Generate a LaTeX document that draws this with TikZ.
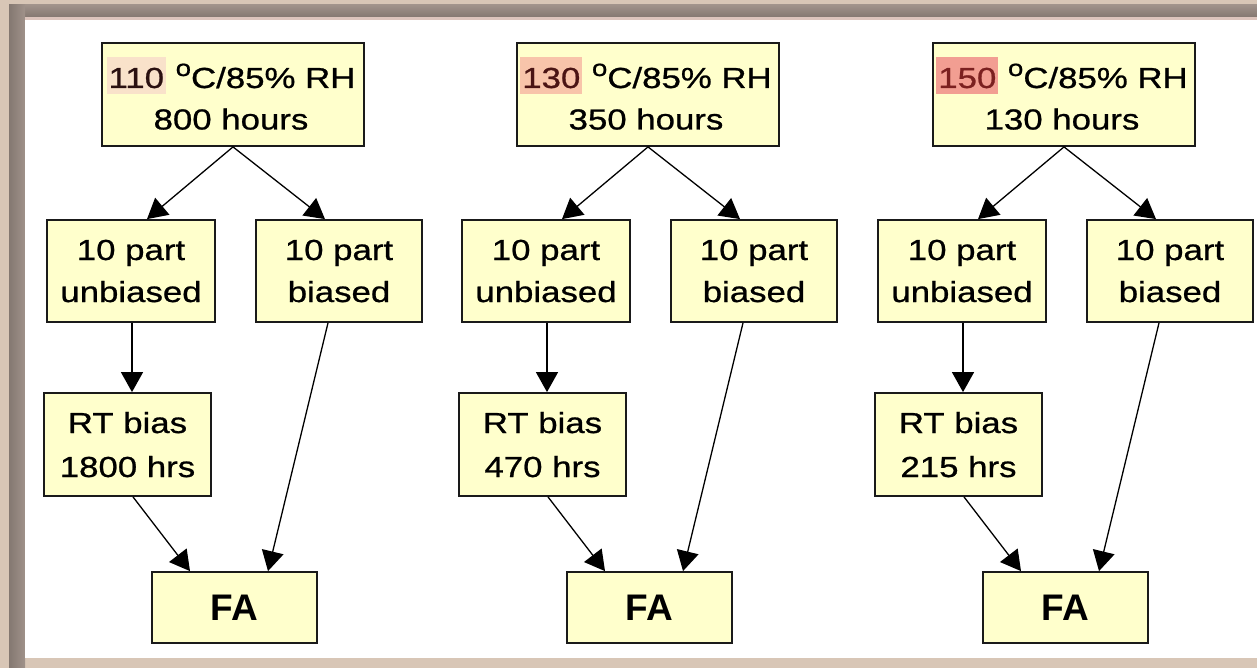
\documentclass[tikz,border=0pt]{standalone}
\usepackage{fontspec}
\setmainfont[FakeStretch=1.2,FakeBold=0.8]{Liberation Sans}
\newfontfamily\boldlabel{Liberation Sans Bold}
\usetikzlibrary{arrows.meta}

\definecolor{boxfill}{HTML}{FFFFCC}
\definecolor{boxline}{HTML}{1A1A1A}
\definecolor{frameBase}{HTML}{D8C6B6}
\definecolor{frameDark}{HTML}{847871}
\definecolor{frameMid}{HTML}{A0928A}
\definecolor{framePink}{HTML}{DCC4BC}
\definecolor{hlA}{HTML}{F9E2CA}
\definecolor{hlB}{HTML}{F8C4AA}
\definecolor{hlC}{HTML}{F29E92}
\definecolor{nmA}{HTML}{2A1010}
\definecolor{nmB}{HTML}{4B1414}
\definecolor{nmC}{HTML}{7B2020}

% highlighted temperature value
\newcommand{\hlnum}[3]{{\setlength{\fboxsep}{0pt}\colorbox{#1}{\rule[-6pt]{0pt}{37pt}\hspace{2pt}\textcolor{#2}{#3}\hspace{2pt}}}}
\newcommand{\degsym}{\raisebox{12pt}{\fontsize{23pt}{23pt}\selectfont o}}

\tikzset{
  box/.style={draw=boxline, line width=1.8pt, fill=boxfill, rectangle, inner sep=0pt},
  txt/.style={font=\fontsize{29pt}{41pt}\selectfont, inner sep=0pt, anchor=base},
  falabel/.style={font=\boldlabel\fontsize{37pt}{37pt}\selectfont},
  link/.style={line width=1.3pt, draw=black, -{Triangle[width=22pt,length=20pt]}}
}

\begin{document}
\begin{tikzpicture}[x=1pt,y=-1pt]
\useasboundingbox (0,0) rectangle (1257,668);
% frame around the slide area
\fill[frameBase] (0,0) rectangle (1257,668);
\shade[top color=frameMid, bottom color=frameDark] (9,5) rectangle (1257,17);
\shade[left color=frameDark, right color=frameMid] (9,5) rectangle (25,668);
\fill[framePink] (25,17) rectangle (1257,20);
\fill[white] (25,20) rectangle (1257,658);

\foreach \g/\dx/\hl/\nm/\num/\hrs/\rt in {1/0/hlA/nmA/110/800/1800, 2/415/hlB/nmB/130/350/470, 3/831/hlC/nmC/150/130/215}{
  % boxes
  \node[box, minimum width=262pt, minimum height=103pt] (top\g) at ({233+\dx},94.5) {};
  \node[box, minimum width=168pt, minimum height=102pt] (unb\g) at ({131+\dx},271) {};
  \node[box, minimum width=166pt, minimum height=102pt] (bia\g) at ({339+\dx},271) {};
  \node[box, minimum width=167pt, minimum height=103pt] (rtb\g) at ({127.5+\dx},444.5) {};
  \node[box, falabel, minimum width=165pt, minimum height=71pt] (fa\g) at ({234.5+\dx},607.5) {FA};
  % box texts
  \node[txt] (top\g-a) at ({231+\dx},88) {\hlnum{\hl}{\nm}{\num} \degsym C/85\% RH};
  \node[txt] (top\g-b) at ({231+\dx},129.5) {\hrs{} hours};
  \node[txt] (unb\g-a) at ({131+\dx},260) {10 part};
  \node[txt] (unb\g-b) at ({131+\dx},302) {unbiased};
  \node[txt] (bia\g-a) at ({339+\dx},260) {10 part};
  \node[txt] (bia\g-b) at ({339+\dx},302) {biased};
  \node[txt] (rtb\g-a) at ({127.5+\dx},433) {RT bias};
  \node[txt] (rtb\g-b) at ({127.5+\dx},477) {\rt{} hrs};
  % connectors
  \draw[link] (top\g.south) -- ([xshift=16pt]unb\g.north);
  \draw[link] (top\g.south) -- ([xshift=-14pt]bia\g.north);
  \draw[link] ([xshift=1pt]unb\g.south) -- ([xshift=4.5pt]rtb\g.north);
  \draw[link] ([xshift=5.5pt]rtb\g.south) -- ([xshift=-44.5pt]fa\g.north);
  \draw[link] ([xshift=-11pt]bia\g.south) -- ([xshift=33.5pt]fa\g.north);
}
\end{tikzpicture}
\end{document}
